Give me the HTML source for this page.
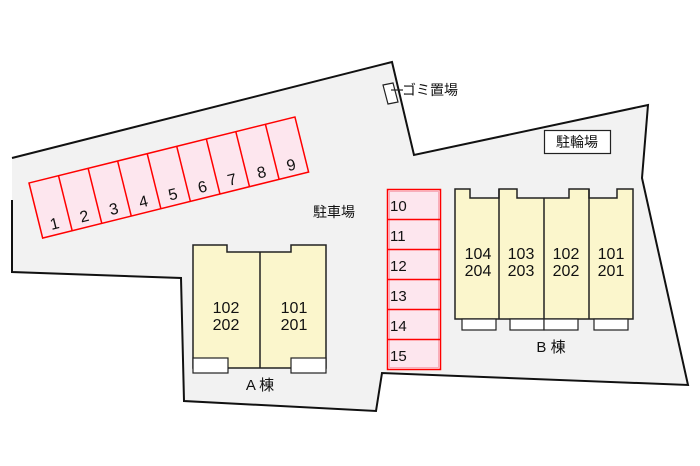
<!DOCTYPE html>
<html><head><meta charset="utf-8"><style>
html,body{margin:0;padding:0;background:#fff;width:700px;height:466px;overflow:hidden}
svg{display:block}
text{font-family:"Liberation Sans","Noto Sans CJK JP",sans-serif;fill:#111}
</style></head><body>
<svg width="700" height="466" viewBox="0 0 700 466">
<polygon points="12,157 392,62 414,155 648,105 642,178 688,385 382,373 376,411 184,401 181,278 12,272 12,157" fill="#f2f2f2" stroke="none"/>
<polyline points="12,158 392,62 414,155 648,105 642,178 688,385 382,373 376,411 184,401 181,278 12,272 12,200" fill="none" stroke="#111" stroke-width="2"/>
<g transform="translate(29,183) rotate(-13.94)">
<rect x="0" y="0" width="274" height="56.7" fill="#fde6ee" stroke="#f00" stroke-width="1.5"/>
<g stroke="#f00" stroke-width="1.5">
<line x1="30.4" y1="0" x2="30.4" y2="56.7"/><line x1="60.9" y1="0" x2="60.9" y2="56.7"/><line x1="91.3" y1="0" x2="91.3" y2="56.7"/><line x1="121.8" y1="0" x2="121.8" y2="56.7"/><line x1="152.2" y1="0" x2="152.2" y2="56.7"/><line x1="182.7" y1="0" x2="182.7" y2="56.7"/><line x1="213.1" y1="0" x2="213.1" y2="56.7"/><line x1="243.6" y1="0" x2="243.6" y2="56.7"/>
</g>
<g font-size="16" text-anchor="middle">
<text x="15" y="51">1</text><text x="45.6" y="51">2</text><text x="76" y="51">3</text><text x="106.5" y="51">4</text><text x="137" y="51">5</text><text x="167.4" y="51">6</text><text x="197.9" y="51">7</text><text x="228.3" y="51">8</text><text x="258.8" y="51">9</text>
</g>
</g>
<rect x="387.5" y="189.5" width="53" height="180" fill="#fde6ee" stroke="#f00" stroke-width="1.5"/>
<rect x="389.5" y="191.5" width="49" height="176" fill="none" stroke="#f6a0b0" stroke-width="0.8"/>
<g stroke="#f00" stroke-width="1.5">
<line x1="387" y1="219.5" x2="441" y2="219.5"/><line x1="387" y1="249.5" x2="441" y2="249.5"/><line x1="387" y1="279.5" x2="441" y2="279.5"/><line x1="387" y1="309.5" x2="441" y2="309.5"/><line x1="387" y1="339.5" x2="441" y2="339.5"/>
</g>
<g font-size="15">
<text x="390" y="211">10</text><text x="390" y="241">11</text><text x="390" y="271">12</text><text x="390" y="301">13</text><text x="390" y="331">14</text><text x="390" y="361">15</text>
</g>
<polygon points="455,189 470,189 470,198 499,198 499,189 517,189 517,198 569,198 569,189 589,189 589,198 617,198 617,189 633,189 633,319 455,319" fill="#fbf6cc" stroke="#222" stroke-width="1.5"/>
<g stroke="#222" stroke-width="1.5"><line x1="499" y1="189" x2="499" y2="319"/><line x1="544" y1="198" x2="544" y2="330"/><line x1="589" y1="189" x2="589" y2="319"/></g>
<g fill="#fff" stroke="#222" stroke-width="1.2">
<rect x="462" y="319" width="34" height="11"/><rect x="510" y="319" width="34" height="11"/><rect x="544" y="319" width="34" height="11"/><rect x="594" y="319" width="34" height="11"/>
</g>
<g font-size="16" text-anchor="middle">
<text x="478" y="259">104</text><text x="478" y="276">204</text>
<text x="521" y="259">103</text><text x="521" y="276">203</text>
<text x="566" y="259">102</text><text x="566" y="276">202</text>
<text x="611" y="259">101</text><text x="611" y="276">201</text>
</g>
<text x="551" y="352" font-size="15" text-anchor="middle">B 棟</text>
<polygon points="193,245 227,245 227,252 291,252 291,245 326,245 326,368 193,368" fill="#fbf6cc" stroke="#222" stroke-width="1.5"/>
<line x1="260" y1="252" x2="260" y2="368" stroke="#222" stroke-width="1.5"/>
<g fill="#fff" stroke="#222" stroke-width="1.2"><rect x="193" y="358" width="35" height="15"/><rect x="291" y="358" width="35" height="15"/></g>
<g font-size="16" text-anchor="middle">
<text x="226" y="313">102</text><text x="226" y="330">202</text>
<text x="294" y="313">101</text><text x="294" y="330">201</text>
</g>
<text x="260" y="390" font-size="15" text-anchor="middle">A 棟</text>
<text x="334" y="217" font-size="14" text-anchor="middle">駐車場</text>
<rect x="544.5" y="130.5" width="66" height="23" fill="#fff" stroke="#222" stroke-width="1.2"/>
<text x="577" y="147" font-size="14" text-anchor="middle">駐輪場</text>
<polygon points="383,85 393,83 398,102 388,104" fill="#fff" stroke="#222" stroke-width="1.2"/>
<line x1="391" y1="90" x2="403" y2="90" stroke="#222" stroke-width="1.2"/>
<text x="402" y="95" font-size="14">ゴミ置場</text>
</svg>
</body></html>
